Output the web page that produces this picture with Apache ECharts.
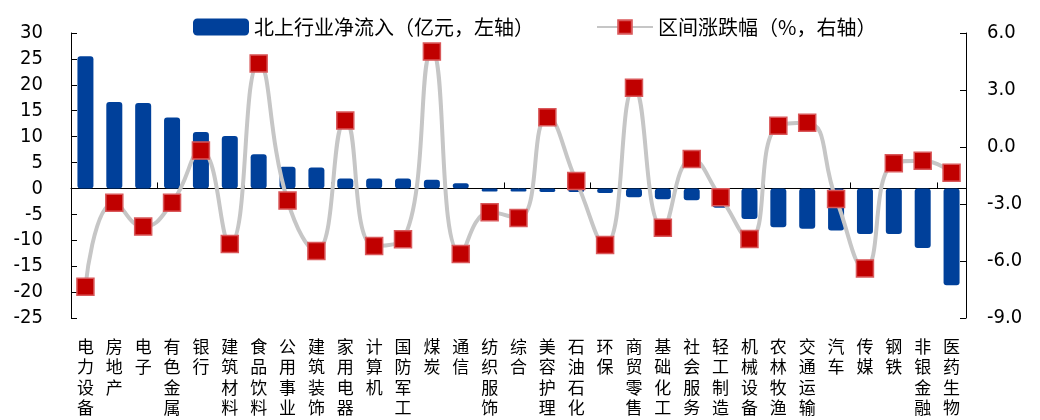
<!DOCTYPE html>
<html>
<head>
<meta charset="utf-8">
<script src="https://cdn.jsdelivr.net/npm/echarts@6/dist/echarts.min.js"></script>
<style>html,body{margin:0;padding:0;background:#fff;}#c{width:1040px;height:420px;}</style>
</head>
<body>
<div id="c"></div>
<script>
const categories = ['电力设备','房地产','电子','有色金属','银行','建筑材料','食品饮料','公用事业','建筑装饰','家用电器','计算机','国防军工','煤炭','通信','纺织服饰','综合','美容护理','石油石化','环保','商贸零售','基础化工','社会服务','轻工制造','机械设备','农林牧渔','交通运输','汽车','传媒','钢铁','非银金融','医药生物'];
const netInflow = [25.5,16.7,16.5,13.7,10.9,10.1,6.6,4.2,4.05,1.9,1.9,1.9,1.7,1.0,-0.6,-0.6,-0.7,-0.7,-0.9,-1.7,-2.1,-2.3,-3.7,-5.9,-7.5,-7.8,-8.1,-8.8,-8.8,-11.5,-18.7];
const pctChange = [-7.35,-2.93,-4.19,-2.93,-0.19,-5.1,4.4,-2.82,-5.47,1.39,-5.21,-4.86,5.02,-5.63,-3.44,-3.74,1.56,-1.79,-5.16,3.12,-4.25,-0.63,-2.65,-4.84,1.12,1.28,-2.74,-6.39,-0.86,-0.72,-1.35];
const leftTicks = {min:-25, max:30, interval:5};
const rightTicks = {min:-9, max:6, interval:3};
const seriesNames = ['北上行业净流入（亿元，左轴）','区间涨跌幅（%，右轴）'];

const numFont = "'DejaVu Sans Condensed','Liberation Sans',sans-serif";
const cjkFont = "'Noto Sans CJK SC',sans-serif";
const chart = echarts.init(document.getElementById('c'));
chart.setOption({
  animation:false,
  backgroundColor:'#fff',
  legend:{
    left:188, top:12, itemGap:62, itemWidth:56, itemHeight:17,
    textStyle:{fontFamily:cjkFont, fontSize:20, color:'#000'},
    data:[{name:seriesNames[0], icon:'roundRect'},{name:seriesNames[1]}]
  },
  grid:{left:71, right:74, top:33, bottom:102},
  xAxis:[{
    type:'category', data:categories, position:'bottom',
    axisLine:{onZero:true, onZeroAxisIndex:0, lineStyle:{color:'#000', width:1}},
    axisTick:{show:true, inside:true, length:6, lineStyle:{color:'#000'}},
    axisLabel:{show:false}, splitLine:{show:false}
  },{
    type:'category', data:categories, position:'bottom',
    axisLine:{show:false, onZero:false}, axisTick:{show:false},
    axisLabel:{show:true, interval:0, margin:18, color:'#000', fontFamily:cjkFont, fontSize:17, lineHeight:20.5, verticalAlign:'top',
      formatter:function(v){return v.split('').join('\n');}}
  }],
  yAxis:[{
    type:'value', min:leftTicks.min, max:leftTicks.max, interval:leftTicks.interval, position:'left',
    axisLine:{show:true, onZero:false, lineStyle:{color:'#000'}},
    axisTick:{show:true, inside:true, length:6, lineStyle:{color:'#000'}},
    axisLabel:{color:'#000', fontFamily:numFont, fontSize:20, margin:28},
    splitLine:{show:false}
  },{
    type:'value', min:rightTicks.min, max:rightTicks.max, interval:rightTicks.interval, position:'right',
    axisLine:{show:true, onZero:false, lineStyle:{color:'#000'}},
    axisTick:{show:true, inside:true, length:6, lineStyle:{color:'#000'}},
    axisLabel:{color:'#000', fontFamily:numFont, fontSize:20, margin:21, formatter:function(v){return v.toFixed(1);}},
    splitLine:{show:false}
  }],
  series:[{
    name:seriesNames[0], type:'bar', xAxisIndex:0, yAxisIndex:0, data:netInflow, barWidth:16, z:2,
    itemStyle:{color:'#00409A', borderRadius:3}
  },{
    name:seriesNames[1], type:'line', xAxisIndex:0, yAxisIndex:1, data:pctChange, smooth:0.5, z:3,
    symbol:'rect', symbolSize:17,
    lineStyle:{color:'#C6C6C6', width:4},
    itemStyle:{color:'#C00000', borderColor:'#D9585A', borderWidth:1.5}
  }]
});
</script>
</body>
</html>
